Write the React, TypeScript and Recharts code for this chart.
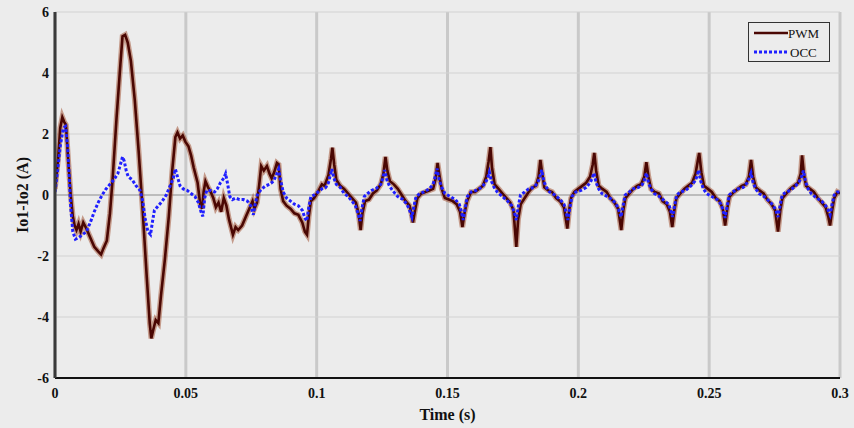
import { LineChart, Line, XAxis, YAxis, CartesianGrid, ReferenceLine } from 'recharts';

const xTicks = [0, 0.05, 0.1, 0.15, 0.2, 0.25, 0.3];
const xTickLabels = ['0', '0.05', '0.1', '0.15', '0.2', '0.25', '0.3'];
const yTicks = [-6, -4, -2, 0, 2, 4, 6];
const seriesNames = ['PWM', 'OCC'];

// [time (s), Io1-Io2 (A)]
const pwmSamples: [number, number][] = [
  [0, 0.2], [0.0012, 1.2], [0.002, 2.2], [0.0028, 2.55], [0.0035, 2.4], [0.0042, 2.3], [0.005, 1.2],
  [0.006, 0.0], [0.0068, -0.7], [0.0075, -1.0], [0.0082, -1.15], [0.009, -0.95], [0.0098, -1.2],
  [0.0108, -0.9], [0.012, -1.1], [0.0135, -1.4], [0.015, -1.7], [0.0165, -1.85], [0.0176, -1.95],
  [0.0185, -1.75], [0.0198, -1.5], [0.021, -0.6], [0.022, 0.5], [0.0235, 2.5], [0.025, 4.3],
  [0.0258, 5.2], [0.0268, 5.25], [0.0278, 5.0], [0.029, 4.4], [0.0305, 3.1], [0.032, 1.4],
  [0.0335, -0.5], [0.035, -2.6], [0.0362, -4.2], [0.0368, -4.7], [0.0376, -4.4], [0.0385, -4.1],
  [0.0395, -4.2], [0.0405, -3.3], [0.042, -2.1], [0.0435, -0.7], [0.0448, 0.8], [0.046, 1.9],
  [0.0468, 2.05], [0.0478, 1.85], [0.0488, 1.95], [0.0498, 1.75], [0.051, 1.6], [0.052, 1.3],
  [0.053, 0.9], [0.0545, 0.4], [0.0555, -0.3], [0.0562, -0.45], [0.0568, 0.1], [0.0575, 0.45],
  [0.0585, 0.25], [0.0595, 0.1], [0.0605, -0.1], [0.0615, -0.4], [0.0625, -0.25], [0.0635, -0.55],
  [0.0645, -0.1], [0.0655, -0.35], [0.0665, -0.8], [0.068, -1.3], [0.069, -1.05], [0.07, -1.15],
  [0.0715, -1.0], [0.073, -0.7], [0.0745, -0.4], [0.0755, -0.2], [0.0762, -0.45], [0.0772, -0.25],
  [0.078, 0.3], [0.0788, 0.95], [0.0798, 0.8], [0.081, 0.95], [0.082, 0.7], [0.0828, 0.55],
  [0.0838, 0.75], [0.0848, 1.05], [0.0855, 1.0], [0.0862, 0.2], [0.0872, -0.2], [0.0885, -0.35],
  [0.09, -0.45], [0.0915, -0.6], [0.093, -0.65], [0.0945, -0.9], [0.0955, -1.2], [0.0963, -1.3],
  [0.097, -0.7], [0.0978, -0.2], [0.099, -0.1], [0.1005, 0.1], [0.102, 0.35], [0.103, 0.3],
  [0.1045, 0.65], [0.1055, 1.2], [0.106, 1.55], [0.1067, 1.0], [0.1075, 0.5], [0.109, 0.3],
  [0.1105, 0.2], [0.112, 0.05], [0.1135, -0.1], [0.115, -0.25], [0.116, -0.6], [0.1168, -1.15],
  [0.1175, -0.6], [0.1185, -0.2], [0.12, -0.15], [0.1215, 0.05], [0.123, 0.15], [0.1245, 0.35],
  [0.1255, 0.7], [0.1263, 1.25], [0.127, 0.8], [0.128, 0.45], [0.1295, 0.35], [0.131, 0.2],
  [0.1325, 0.0], [0.134, -0.2], [0.1355, -0.35], [0.1362, -0.6], [0.1368, -0.9], [0.1375, -0.55],
  [0.1385, -0.1], [0.14, 0.05], [0.1415, 0.1], [0.143, 0.15], [0.1445, 0.2], [0.1455, 0.55],
  [0.1462, 1.05], [0.147, 0.6], [0.1478, 0.2], [0.149, -0.1], [0.1505, -0.15], [0.152, -0.2],
  [0.1535, -0.3], [0.1548, -0.55], [0.1557, -1.05], [0.1565, -0.6], [0.1575, -0.2], [0.159, 0.1],
  [0.1605, 0.1], [0.162, 0.2], [0.1635, 0.3], [0.1648, 0.6], [0.1657, 1.1], [0.1664, 1.57],
  [0.167, 0.9], [0.168, 0.35], [0.1695, 0.2], [0.171, 0.05], [0.1725, -0.1], [0.174, -0.25],
  [0.1752, -0.5], [0.1763, -1.7], [0.177, -0.8], [0.178, -0.3], [0.1795, -0.1], [0.181, 0.1],
  [0.1825, 0.25], [0.1838, 0.3], [0.1848, 0.6], [0.1855, 1.15], [0.1862, 0.7], [0.187, 0.25],
  [0.1885, 0.15], [0.19, 0.1], [0.1915, -0.1], [0.193, -0.2], [0.1945, -0.4], [0.1958, -1.1],
  [0.1965, -0.5], [0.1972, -0.1], [0.1985, 0.1], [0.2, 0.2], [0.2015, 0.3], [0.203, 0.4],
  [0.2045, 0.6], [0.2055, 1.0], [0.2061, 1.38], [0.2068, 0.8], [0.2078, 0.3], [0.2092, 0.2],
  [0.2108, 0.1], [0.2122, -0.1], [0.2138, -0.25], [0.2152, -0.45], [0.2164, -1.15], [0.2172, -0.5],
  [0.218, -0.1], [0.2195, 0.05], [0.221, 0.2], [0.2225, 0.3], [0.224, 0.35], [0.2252, 0.6],
  [0.226, 1.08], [0.2268, 0.6], [0.2278, 0.2], [0.2292, 0.1], [0.2308, 0.05], [0.2322, -0.2],
  [0.2338, -0.3], [0.235, -0.55], [0.2359, -1.05], [0.2367, -0.5], [0.2375, -0.1], [0.239, 0.05],
  [0.2405, 0.2], [0.242, 0.3], [0.2435, 0.4], [0.2448, 0.7], [0.2456, 1.1], [0.2462, 1.38],
  [0.247, 0.75], [0.248, 0.3], [0.2495, 0.2], [0.251, 0.1], [0.2525, -0.1], [0.254, -0.2],
  [0.2552, -0.45], [0.2561, -1.0], [0.257, -0.4], [0.2578, -0.05], [0.2595, 0.1], [0.261, 0.2],
  [0.2625, 0.3], [0.264, 0.35], [0.2652, 0.6], [0.266, 1.15], [0.2668, 0.6], [0.2678, 0.25],
  [0.2692, 0.15], [0.2708, 0.05], [0.2722, -0.15], [0.2738, -0.3], [0.2752, -0.5], [0.2763, -1.2],
  [0.2772, -0.5], [0.278, -0.1], [0.2795, 0.05], [0.281, 0.2], [0.2825, 0.3], [0.284, 0.4],
  [0.285, 0.7], [0.2855, 1.3], [0.2862, 0.7], [0.287, 0.3], [0.2885, 0.2], [0.29, 0.1],
  [0.2915, -0.1], [0.293, -0.25], [0.2945, -0.4], [0.2955, -0.7], [0.2962, -1.0], [0.297, -0.5],
  [0.2978, -0.1], [0.299, 0.1], [0.3, 0.05],
];

const occSamples: [number, number][] = [
  [0, 0.1], [0.001, 0.8], [0.002, 1.6], [0.0032, 2.2], [0.004, 2.25], [0.0048, 1.6], [0.0055, 0.5],
  [0.006, -0.4], [0.0068, -1.2], [0.0078, -1.45], [0.009, -1.4], [0.0105, -1.3], [0.012, -1.2],
  [0.0135, -0.9], [0.015, -0.55], [0.0165, -0.25], [0.018, 0.0], [0.0195, 0.2], [0.021, 0.35],
  [0.0225, 0.5], [0.024, 0.7], [0.025, 1.0], [0.0258, 1.25], [0.0265, 1.1], [0.0272, 0.8],
  [0.028, 0.6], [0.0295, 0.5], [0.031, 0.3], [0.0325, 0.15], [0.0335, -0.2], [0.0345, -0.8],
  [0.0355, -1.2], [0.0365, -1.3], [0.0372, -0.9], [0.038, -0.5], [0.0395, -0.35], [0.041, -0.2],
  [0.0425, 0.0], [0.044, 0.3], [0.0452, 0.55], [0.046, 0.85], [0.0468, 0.6], [0.0478, 0.3],
  [0.049, 0.2], [0.0505, 0.15], [0.052, 0.05], [0.0535, -0.05], [0.0548, -0.25], [0.0558, -0.55],
  [0.0565, -0.7], [0.0572, -0.1], [0.058, 0.15], [0.0595, 0.15], [0.061, 0.1], [0.062, 0.2],
  [0.0632, 0.4], [0.0645, 0.55], [0.0652, 0.7], [0.066, 0.35], [0.0668, -0.05], [0.0678, -0.15],
  [0.069, -0.1], [0.0705, -0.15], [0.072, -0.15], [0.0735, -0.2], [0.0748, -0.35], [0.0758, -0.65],
  [0.0765, -0.3], [0.0775, 0.05], [0.079, 0.2], [0.0805, 0.3], [0.082, 0.35], [0.0835, 0.45],
  [0.0848, 0.7], [0.0855, 0.85], [0.0862, 0.5], [0.0872, 0.1], [0.0885, -0.1], [0.09, -0.2],
  [0.0915, -0.3], [0.093, -0.35], [0.0945, -0.5], [0.0955, -0.75], [0.0962, -0.85], [0.097, -0.4],
  [0.0978, -0.05], [0.099, 0.0], [0.1005, 0.1], [0.102, 0.2], [0.1035, 0.25], [0.1045, 0.4],
  [0.1052, 0.65], [0.1058, 0.85], [0.1066, 0.55], [0.1075, 0.35], [0.109, 0.25], [0.1105, 0.05],
  [0.112, -0.05], [0.1135, -0.2], [0.1148, -0.35], [0.1158, -0.6], [0.1166, -0.85], [0.1174, -0.4],
  [0.1182, -0.05], [0.1195, 0.05], [0.121, 0.15], [0.1228, 0.22], [0.1245, 0.35], [0.1253, 0.55],
  [0.126, 0.82], [0.1268, 0.5], [0.1278, 0.3], [0.129, 0.15], [0.131, -0.05], [0.133, -0.15],
  [0.1345, -0.3], [0.1355, -0.5], [0.1364, -0.72], [0.1372, -0.35], [0.138, -0.05], [0.1395, 0.05],
  [0.141, 0.1], [0.143, 0.2], [0.1445, 0.35], [0.1453, 0.6], [0.146, 0.87], [0.1468, 0.5],
  [0.1478, 0.25], [0.149, 0.05], [0.151, -0.05], [0.153, -0.15], [0.1545, -0.3], [0.1553, -0.55],
  [0.156, -0.82], [0.1568, -0.4], [0.1576, -0.05], [0.159, 0.1], [0.161, 0.15], [0.163, 0.25],
  [0.1645, 0.4], [0.1653, 0.55], [0.166, 0.75], [0.1668, 0.45], [0.1678, 0.25], [0.169, 0.1],
  [0.171, -0.05], [0.173, -0.2], [0.1745, -0.35], [0.1755, -0.55], [0.1763, -0.82], [0.1771, -0.35],
  [0.1779, 0.0], [0.1795, 0.1], [0.181, 0.2], [0.183, 0.25], [0.1845, 0.4], [0.1853, 0.6],
  [0.186, 0.82], [0.1868, 0.45], [0.1878, 0.25], [0.189, 0.1], [0.191, 0.0], [0.193, -0.15],
  [0.1945, -0.3], [0.1953, -0.55], [0.196, -0.82], [0.1968, -0.4], [0.1976, -0.05], [0.199, 0.1],
  [0.201, 0.15], [0.203, 0.25], [0.2045, 0.4], [0.2053, 0.55], [0.206, 0.72], [0.2068, 0.4],
  [0.2078, 0.2], [0.209, 0.05], [0.211, -0.05], [0.213, -0.15], [0.2145, -0.3], [0.2155, -0.5],
  [0.2163, -0.72], [0.2171, -0.35], [0.2179, 0.0], [0.2195, 0.1], [0.221, 0.2], [0.223, 0.25],
  [0.2245, 0.35], [0.2253, 0.5], [0.226, 0.72], [0.2268, 0.4], [0.2278, 0.2], [0.229, 0.05],
  [0.231, -0.05], [0.233, -0.2], [0.2345, -0.3], [0.2353, -0.5], [0.236, -0.72], [0.2368, -0.35],
  [0.2376, 0.0], [0.239, 0.1], [0.241, 0.15], [0.243, 0.3], [0.2445, 0.45], [0.2453, 0.6],
  [0.246, 0.82], [0.2468, 0.45], [0.2478, 0.2], [0.249, 0.05], [0.251, -0.05], [0.253, -0.15],
  [0.2545, -0.3], [0.2553, -0.5], [0.2561, -0.75], [0.2569, -0.35], [0.2577, 0.0], [0.259, 0.1],
  [0.261, 0.2], [0.263, 0.25], [0.2645, 0.4], [0.2653, 0.55], [0.266, 0.72], [0.2668, 0.4],
  [0.2678, 0.2], [0.269, 0.05], [0.271, -0.05], [0.273, -0.2], [0.2745, -0.35], [0.2755, -0.5],
  [0.2763, -0.72], [0.2771, -0.35], [0.2779, 0.0], [0.2795, 0.1], [0.281, 0.15], [0.283, 0.3],
  [0.2845, 0.45], [0.2853, 0.6], [0.286, 0.8], [0.2868, 0.45], [0.2878, 0.2], [0.289, 0.05],
  [0.291, -0.1], [0.293, -0.2], [0.2945, -0.35], [0.2955, -0.5], [0.2962, -0.65], [0.297, -0.3],
  [0.2978, 0.0], [0.299, 0.1], [0.3, 0.1],
];

const pwmData = pwmSamples.map(([t, v]) => ({ t, v }));
const occData = occSamples.map(([t, v]) => ({ t, v }));

const serif = '"Liberation Serif", "DejaVu Serif", serif';
const tickStyle = { fill: '#111', fontSize: 14, fontWeight: 700, fontFamily: serif };

export default function App() {
  return (
    <div style={{ position: 'absolute', left: 0, top: 0, width: 854, height: 428, background: '#ececec' }}>
      <LineChart width={854} height={428} margin={{ top: 12, right: 14, bottom: 0, left: 10 }}>
        <CartesianGrid horizontal={false} stroke="#c9c9c9" strokeWidth={3} />
        <CartesianGrid vertical={false} stroke="#d2d2d2" strokeWidth={1} />
        <ReferenceLine y={0} stroke="#999" strokeWidth={1} />
        <XAxis
          dataKey="t"
          type="number"
          domain={[0, 0.3]}
          ticks={xTicks}
          tickFormatter={(v: number) => xTickLabels[xTicks.indexOf(v)] ?? String(v)}
          allowDataOverflow
          height={50}
          tickSize={0}
          tickMargin={10}
          tick={tickStyle}
          axisLine={{ stroke: '#111', strokeWidth: 2 }}
          label={{ value: 'Time (s)', position: 'insideBottom', offset: 8, style: { ...tickStyle, fontSize: 16 } }}
        />
        <XAxis xAxisId="top" orientation="top" type="number" domain={[0, 0.3]} height={0} tick={false} tickLine={false} axisLine={{ stroke: '#222', strokeWidth: 2 }} />
        <YAxis
          type="number"
          domain={[-6, 6]}
          ticks={yTicks}
          width={45}
          tickSize={0}
          tickMargin={6}
          tick={tickStyle}
          axisLine={{ stroke: '#3a3a3a', strokeWidth: 3 }}
          label={{ value: 'Io1-Io2 (A)', angle: -90, position: 'insideLeft', offset: 12, style: { ...tickStyle, fontSize: 16, textAnchor: 'middle' } }}
        />
        <YAxis yAxisId="right" orientation="right" type="number" domain={[-6, 6]} width={0} tick={false} tickLine={false} axisLine={{ stroke: '#666', strokeWidth: 3 }} />
        <Line data={pwmData} dataKey="v" type="linear" stroke="#a4583a" strokeOpacity={0.55} strokeWidth={5.5} dot={false} isAnimationActive={false} legendType="none" />
        <Line data={pwmData} dataKey="v" name={seriesNames[0]} type="linear" stroke="#4a0703" strokeWidth={2.6} dot={false} isAnimationActive={false} />
        <Line data={occData} dataKey="v" name={seriesNames[1]} type="linear" stroke="#1f1fff" strokeWidth={3} strokeDasharray="3 2" dot={false} isAnimationActive={false} />
      </LineChart>
      <div style={{ position: 'absolute', left: 748, top: 22, width: 82, height: 40, border: '1px solid #333', background: '#ececec', boxSizing: 'border-box' }}>
        <svg width={80} height={38} style={{ position: 'absolute', left: 0, top: 0 }}>
          <line x1={5} y1={10} x2={39} y2={10} stroke="#4a0703" strokeWidth={2.5} />
          <line x1={5} y1={29} x2={39} y2={29} stroke="#1f1fff" strokeWidth={3} strokeDasharray="3 2" />
          <text x={39} y={14.5} fontFamily={serif} fontSize={13} fill="#111">{seriesNames[0]}</text>
          <text x={41} y={33.5} fontFamily={serif} fontSize={13} fill="#111">{seriesNames[1]}</text>
        </svg>
      </div>
    </div>
  );
}
